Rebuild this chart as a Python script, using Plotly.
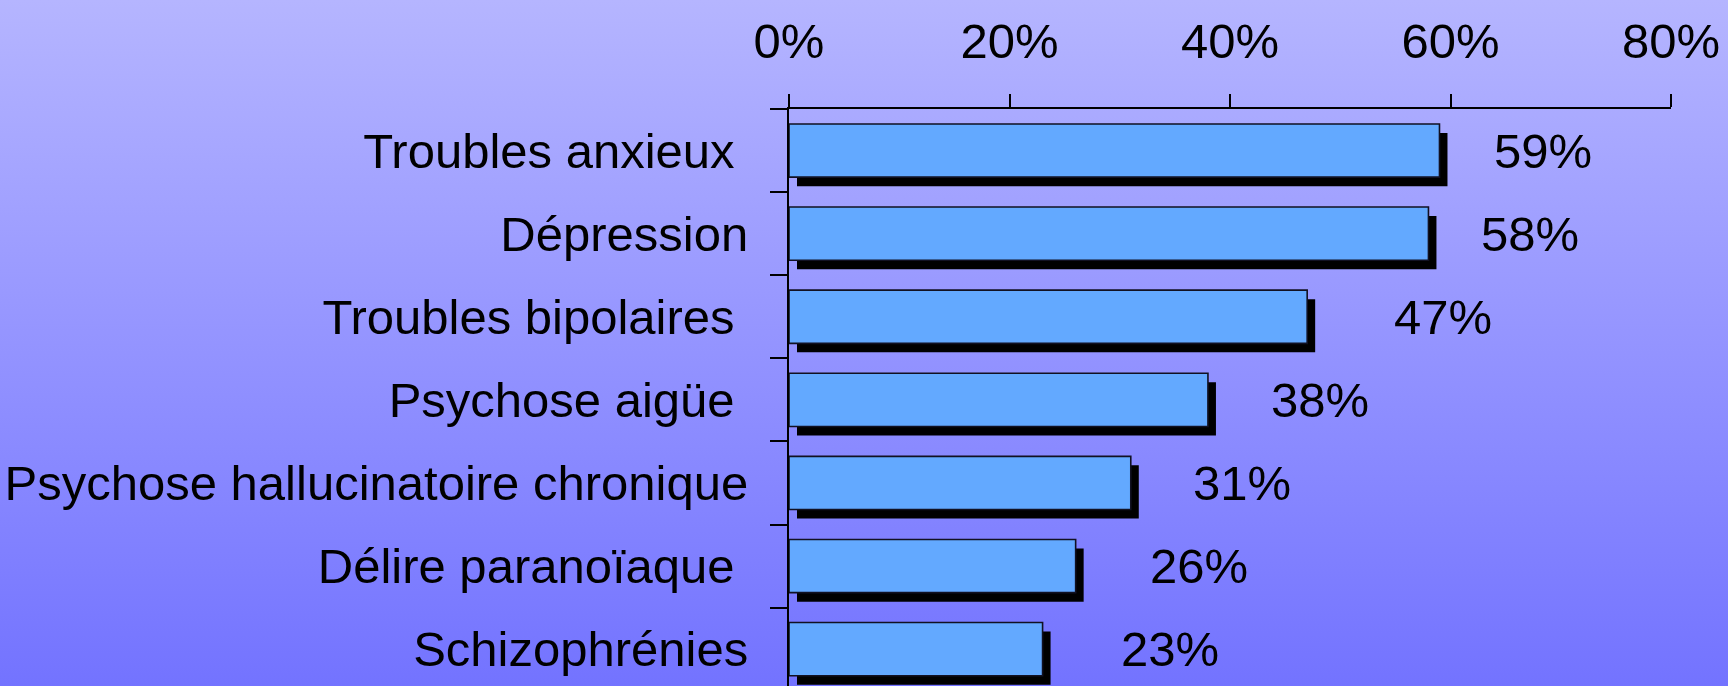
import base64
import plotly.graph_objects as go

# ---- data ----
categories = [
    "Troubles anxieux\u00a0",
    "Dépression",
    "Troubles bipolaires\u00a0",
    "Psychose aigüe\u00a0",
    "Psychose hallucinatoire chronique",
    "Délire paranoïaque\u00a0",
    "Schizophrénies",
]
values = [59, 58, 47, 38, 31, 26, 23]
x_ticks = [0, 20, 40, 60, 80]

# ---- style ----
label_offsets = [9.4, 9.2, 12.3, 10.2, 10.1, 11.2, 11.6]  # value-label placement (in %)
W, H = 1728, 686
ML, MR, MT, MB = 789, 57, 109, 0
plot_w = W - ML - MR
plot_h = H - MT - MB
px_per_unit_x = plot_w / 80.0
cat_px = 83.1
n_vis = plot_h / cat_px
bar_w = 0.64
shadow_dx = 8 / px_per_unit_x
shadow_dy = 9 / cat_px
FONT = "Liberation Sans, Arial, Helvetica, sans-serif"
FS = 49

svg = (
    f'<svg xmlns="http://www.w3.org/2000/svg" width="{W}" height="{H}" '
    f'viewBox="0 0 {W} {H}" preserveAspectRatio="none">'
    '<defs><linearGradient id="g" x1="0" y1="0" x2="0" y2="1">'
    '<stop offset="0" stop-color="#b5b5ff"/><stop offset="1" stop-color="#7373ff"/>'
    '</linearGradient></defs>'
    f'<rect width="{W}" height="{H}" fill="url(#g)"/></svg>'
)
svg_uri = "data:image/svg+xml;base64," + base64.b64encode(svg.encode()).decode()

fig = go.Figure()

# shadow bars
fig.add_trace(go.Bar(
    y=categories, x=values, base=shadow_dx, orientation="h",
    width=bar_w, offset=-bar_w / 2 + shadow_dy,
    marker=dict(color="#000000", line=dict(width=0)),
    hoverinfo="skip", showlegend=False,
))
# main bars
fig.add_trace(go.Bar(
    y=categories, x=values, orientation="h",
    width=bar_w, offset=-bar_w / 2,
    marker=dict(color="#63a9ff", line=dict(color="#111122", width=1.6)),
    showlegend=False,
))

for c, v, o in zip(categories, values, label_offsets):
    fig.add_annotation(
        x=v + o, y=c, text=f"{v}%", showarrow=False,
        xanchor="center", yanchor="middle",
        font=dict(family=FONT, size=FS, color="black"),
    )

fig.update_layout(
    width=W, height=H,
    margin=dict(l=ML, r=MR, t=MT, b=MB, pad=0),
    paper_bgcolor="rgba(0,0,0,0)",
    plot_bgcolor="rgba(0,0,0,0)",
    barmode="overlay",
    font=dict(family=FONT, size=FS, color="black"),
    images=[dict(
        source=svg_uri, xref="paper", yref="paper",
        x=-ML / plot_w, y=1 + MT / plot_h,
        sizex=W / plot_w, sizey=H / plot_h,
        xanchor="left", yanchor="top", sizing="stretch", layer="below",
    )],
    xaxis=dict(
        side="top", range=[0, 80], tickvals=x_ticks,
        ticktext=[f"{t}%" for t in x_ticks],
        ticks="outside", ticklen=13, tickwidth=2, tickcolor="black",
        showline=True, linecolor="black", linewidth=2,
        showgrid=False, zeroline=False, ticklabelstandoff=16,
        tickfont=dict(family=FONT, size=FS, color="black"),
        fixedrange=True,
    ),
    yaxis=dict(
        type="category", categoryorder="array", categoryarray=categories,
        range=[-0.5 + n_vis, -0.5],
        tickson="boundaries", ticks="outside", ticklen=17, tickwidth=2,
        tickcolor="black", showline=True, linecolor="black", linewidth=2,
        showgrid=False, zeroline=False, ticklabelstandoff=29,
        tickfont=dict(family=FONT, size=FS, color="black"),
        fixedrange=True,
    ),
)

fig.write_html(
    "out.html",
    config={"displayModeBar": False},
    post_script="document.body.style.margin='0';document.body.style.overflow='hidden';",
)
